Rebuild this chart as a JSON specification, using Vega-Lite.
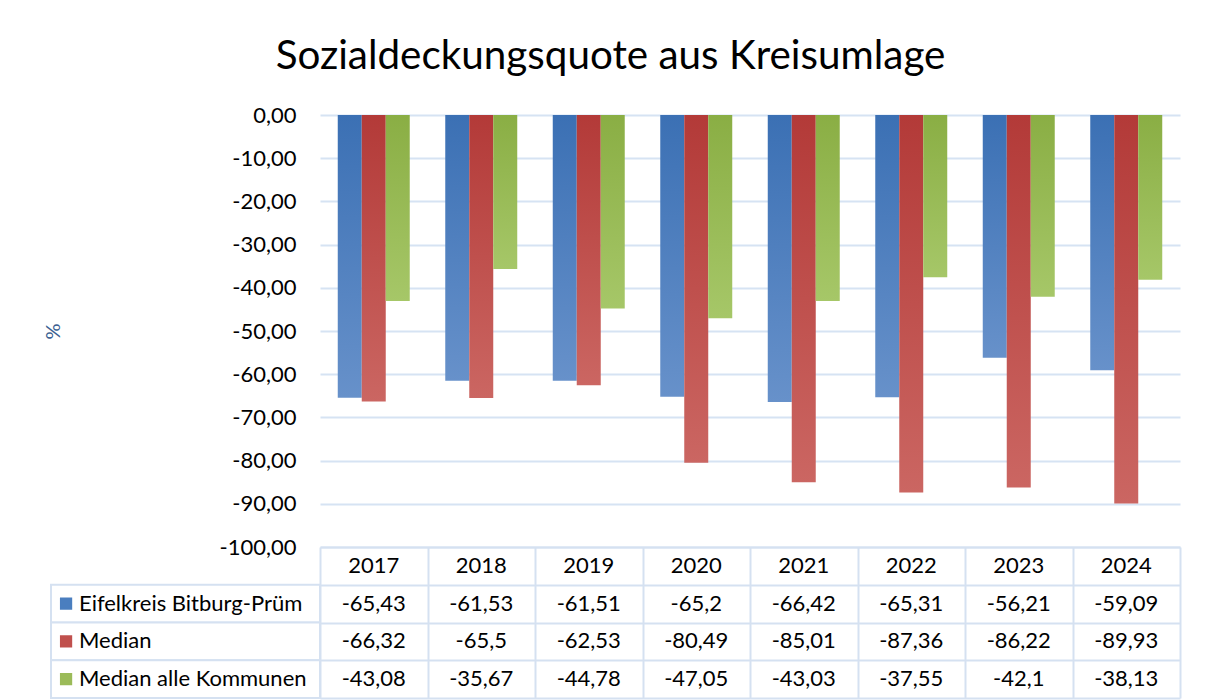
{
  "$schema": "https://vega.github.io/schema/vega-lite/v6.json",
  "padding": {"left": 43, "top": 36, "right": 23, "bottom": 3},
  "background": "white",
  "title": {"text": "Sozialdeckungsquote aus Kreisumlage", "fontSize": 40.4, "font": "Lato", "fontWeight": "normal", "color": "#000000", "anchor": "middle", "baseline": "alphabetic", "offset": -5, "dx": -1},
  "datasets": {
    "werte": [
      {"year": "2017", "series": "Eifelkreis Bitburg-Prüm", "value": -65.43},
      {"year": "2018", "series": "Eifelkreis Bitburg-Prüm", "value": -61.53},
      {"year": "2019", "series": "Eifelkreis Bitburg-Prüm", "value": -61.51},
      {"year": "2020", "series": "Eifelkreis Bitburg-Prüm", "value": -65.2},
      {"year": "2021", "series": "Eifelkreis Bitburg-Prüm", "value": -66.42},
      {"year": "2022", "series": "Eifelkreis Bitburg-Prüm", "value": -65.31},
      {"year": "2023", "series": "Eifelkreis Bitburg-Prüm", "value": -56.21},
      {"year": "2024", "series": "Eifelkreis Bitburg-Prüm", "value": -59.09},
      {"year": "2017", "series": "Median", "value": -66.32},
      {"year": "2018", "series": "Median", "value": -65.5},
      {"year": "2019", "series": "Median", "value": -62.53},
      {"year": "2020", "series": "Median", "value": -80.49},
      {"year": "2021", "series": "Median", "value": -85.01},
      {"year": "2022", "series": "Median", "value": -87.36},
      {"year": "2023", "series": "Median", "value": -86.22},
      {"year": "2024", "series": "Median", "value": -89.93},
      {"year": "2017", "series": "Median alle Kommunen", "value": -43.08},
      {"year": "2018", "series": "Median alle Kommunen", "value": -35.67},
      {"year": "2019", "series": "Median alle Kommunen", "value": -44.78},
      {"year": "2020", "series": "Median alle Kommunen", "value": -47.05},
      {"year": "2021", "series": "Median alle Kommunen", "value": -43.03},
      {"year": "2022", "series": "Median alle Kommunen", "value": -37.55},
      {"year": "2023", "series": "Median alle Kommunen", "value": -42.1},
      {"year": "2024", "series": "Median alle Kommunen", "value": -38.13}
    ]
  },
  "columns": 2,
  "spacing": {"row": 0, "column": 0},
  "bounds": "flush",
  "resolve": {"scale": {"x": "independent", "y": "independent", "color": "independent", "xOffset": "independent"}, "axis": {"x": "independent", "y": "independent"}},
  "concat": [
    {
      "width": 269,
      "height": 432,
      "data": {"values": [{}]},
      "mark": {"type": "text"},
      "encoding": {"text": {"value": ""}}
    },
    {
      "width": 860,
      "height": 432,
      "data": {"name": "werte"},
      "encoding": {
        "x": {"field": "year", "type": "ordinal", "scale": {"paddingInner": 0, "paddingOuter": 0}, "axis": null},
        "xOffset": {"field": "series", "type": "nominal", "scale": {"domain": ["Eifelkreis Bitburg-Prüm", "Median", "Median alle Kommunen"], "paddingOuter": 0.74, "paddingInner": 0}},
        "y": {
          "field": "value", "type": "quantitative",
          "scale": {"domain": [-100, 0], "nice": false},
          "axis": {
            "values": [0, -10, -20, -30, -40, -50, -60, -70, -80, -90, -100],
            "format": ".2f",
            "grid": true, "gridColor": "#D6E3F3", "gridWidth": 2,
            "domain": false, "ticks": false,
            "labelFontSize": 22, "labelColor": "#000000", "labelPadding": 24, "labelFont": "Lato",
            "title": "%", "titleFontSize": 20, "titleFontWeight": "normal", "titleColor": "#3B5F91", "titlePadding": 156, "titleFont": "Lato"
          }
        }
      },
      "layer": [
        {
          "transform": [{"filter": "datum.series === 'Eifelkreis Bitburg-Prüm'"}],
          "mark": {"type": "bar", "color": {"gradient": "linear", "x1": 0, "y1": 0, "x2": 0, "y2": 1, "stops": [{"offset": 0, "color": "#3B70B4"}, {"offset": 1, "color": "#6791CA"}]}}
        },
        {
          "transform": [{"filter": "datum.series === 'Median'"}],
          "mark": {"type": "bar", "color": {"gradient": "linear", "x1": 0, "y1": 0, "x2": 0, "y2": 1, "stops": [{"offset": 0, "color": "#B33A38"}, {"offset": 1, "color": "#CB6662"}]}}
        },
        {
          "transform": [{"filter": "datum.series === 'Median alle Kommunen'"}],
          "mark": {"type": "bar", "color": {"gradient": "linear", "x1": 0, "y1": 0, "x2": 0, "y2": 1, "stops": [{"offset": 0, "color": "#8AAE44"}, {"offset": 1, "color": "#A6C768"}]}}
        }
      ]
    },
    {
      "width": 269,
      "height": 151,
      "data": {"name": "werte"},
      "transform": [{"aggregate": [{"op": "count", "as": "n"}], "groupby": ["series"]}],
      "encoding": {
        "y": {"field": "series", "type": "nominal", "scale": {"domain": ["Jahr", "Eifelkreis Bitburg-Prüm", "Median", "Median alle Kommunen"], "paddingInner": 0, "paddingOuter": 0}, "axis": null}
      },
      "layer": [
        {
          "mark": {"type": "rect", "fill": "white", "stroke": "#D5E1F1", "strokeWidth": 2},
          "encoding": {
            "x": {"datum": 0, "type": "quantitative", "scale": {"domain": [0, 1], "nice": false, "zero": false}, "axis": null},
            "x2": {"datum": 1}
          }
        },
        {
          "mark": {"type": "point", "shape": "square", "filled": true, "size": 150, "opacity": 1},
          "encoding": {
            "x": {"datum": 0.056, "type": "quantitative"},
            "color": {"field": "series", "type": "nominal", "scale": {"domain": ["Eifelkreis Bitburg-Prüm", "Median", "Median alle Kommunen"], "range": ["#4A7EBF", "#C0504D", "#9BBB59"]}, "legend": null}
          }
        },
        {
          "mark": {"type": "text", "align": "left", "baseline": "middle", "fontSize": 22, "font": "Lato", "color": "#000000"},
          "encoding": {
            "x": {"datum": 0.104, "type": "quantitative"},
            "text": {"field": "series", "type": "nominal"}
          }
        }
      ]
    },
    {
      "width": 860,
      "height": 151,
      "data": {"name": "werte"},
      "encoding": {
        "x": {"field": "year", "type": "ordinal", "scale": {"paddingInner": 0, "paddingOuter": 0}, "axis": {"orient": "bottom", "grid": true, "tickBand": "extent", "gridColor": "#D5E1F1", "gridWidth": 2, "labels": false, "ticks": false, "domain": false, "title": null}},
        "y": {"field": "series", "type": "nominal", "scale": {"domain": ["Jahr", "Eifelkreis Bitburg-Prüm", "Median", "Median alle Kommunen"], "paddingInner": 0, "paddingOuter": 0}, "axis": {"grid": true, "tickBand": "extent", "gridColor": "#D5E1F1", "gridWidth": 2, "labels": false, "ticks": false, "domain": false, "title": null}}
      },
      "layer": [
        {
          "mark": {"type": "text", "fontSize": 22, "font": "Lato", "color": "#000000", "baseline": "middle"},
          "encoding": {"text": {"field": "value", "type": "quantitative", "format": "~g"}}
        },
        {
          "transform": [{"aggregate": [{"op": "count", "as": "n"}], "groupby": ["year"]}],
          "mark": {"type": "text", "fontSize": 22, "font": "Lato", "color": "#000000", "baseline": "middle"},
          "encoding": {
            "y": {"datum": "Jahr", "type": "nominal"},
            "text": {"field": "year", "type": "nominal"}
          }
        }
      ]
    }
  ],
  "config": {
    "font": "Lato",
    "view": {"stroke": null},
    "locale": {"number": {"decimal": ",", "thousands": ".", "grouping": [3], "currency": ["", " €"], "minus": "-"}}
  }
}
